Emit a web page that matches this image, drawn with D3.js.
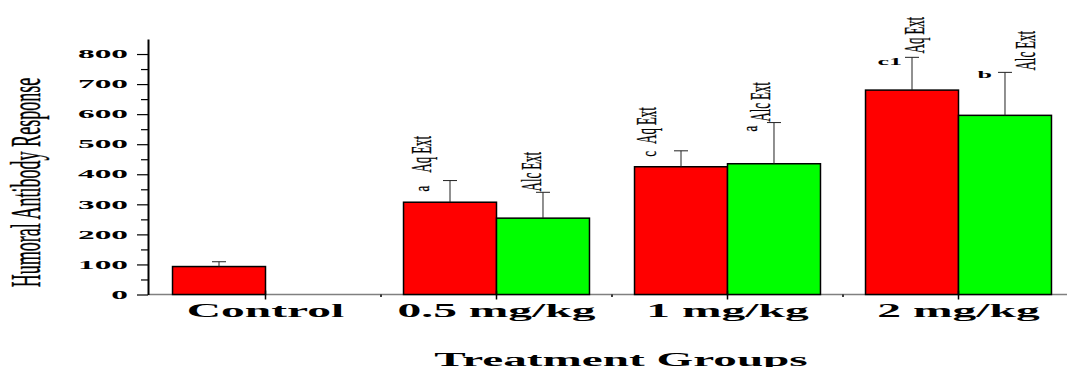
<!DOCTYPE html>
<html>
<head>
<meta charset="utf-8">
<script src="https://cdn.jsdelivr.net/npm/d3@7"></script>
<style>
  html, body { margin: 0; padding: 0; background: #fff; overflow: hidden; }
  text { font-family: "Liberation Serif", "Times New Roman", serif; }
</style>
</head>
<body>
<script>
// chart values
const groups = ["Control", "0.5 mg/kg", "1 mg/kg", "2 mg/kg"];
const series = ["Aq Ext", "Alc Ext"];
const aqValues = [93, 307, 425, 680];
const aqErrors = [16, 72, 53, 109];
const alcValues = [null, 254, 435, 596];
const alcErrors = [null, 86, 137, 143];
const aqLetters = [null, "a", "c", "c1"];
const alcLetters = [null, null, "a", "b"];
const yTicks = [0, 100, 200, 300, 400, 500, 600, 700, 800];
const yMinorTicks = [50, 150, 250, 350, 450, 550, 650, 750];

// hand-placed annotation offsets (relative to top of the error bar)
const labelShift = {
  "Aq Ext":  [null, [-19, -8], [-25, -7], [12, -4]],
  "Alc Ext": [null, [-2, -1], [-4, -1], [30, -2]]
};
const letterShift = {
  "Aq Ext":  [null, [-21, 11, "r"], [-25, 6, "r"], [-10, 8, "h"]],
  "Alc Ext": [null, null, [-17, 9, "r"], [-13, 6, "h"]]
};

const W = 1067, H = 367;
const svg = d3.select("body").append("svg")
    .attr("width", W)
    .attr("height", H);

const y = d3.scaleLinear().domain([0, 850]).range([294.5, 39]);
const x = d3.scaleBand().domain(groups).range([150, 1074])
    .paddingInner(0.195).paddingOuter(0.0975);
const xs = d3.scaleBand().domain(series).range([0, x.bandwidth()]);
const colors = {"Aq Ext": "#ff0000", "Alc Ext": "#00ff00"};

function stretch(sel, k) {
  sel.each(function () {
    const w = this.getComputedTextLength();
    d3.select(this).attr("textLength", w * k).attr("lengthAdjust", "spacingAndGlyphs");
  });
}

const rows = [];
groups.forEach((g, i) => {
  if (aqValues[i] != null) rows.push({g, i, s: "Aq Ext", v: aqValues[i], e: aqErrors[i]});
  if (alcValues[i] != null) rows.push({g, i, s: "Alc Ext", v: alcValues[i], e: alcErrors[i]});
});

// x axis line (grey)
svg.append("line")
    .attr("x1", 148).attr("x2", W)
    .attr("y1", y(0)).attr("y2", y(0))
    .attr("stroke", "#808080").attr("stroke-width", 1.5);

// bars
svg.append("g").selectAll("rect")
  .data(rows)
  .join("rect")
    .attr("x", d => x(d.g) + xs(d.s))
    .attr("y", d => y(d.v))
    .attr("width", xs.bandwidth())
    .attr("height", d => y(0) - y(d.v))
    .attr("fill", d => colors[d.s])
    .attr("stroke", "#000")
    .attr("stroke-width", 1.5);

// error bars (upper only)
const eb = svg.append("g").attr("stroke", "#222").attr("stroke-width", 1);
rows.forEach(d => {
  const cx = x(d.g) + xs(d.s) + xs.bandwidth() / 2;
  eb.append("line").attr("x1", cx).attr("x2", cx).attr("y1", y(d.v)).attr("y2", y(d.v + d.e));
  eb.append("line").attr("x1", cx - 7).attr("x2", cx + 7).attr("y1", y(d.v + d.e)).attr("y2", y(d.v + d.e));
});

// x axis ticks and category labels
const xAxis = svg.append("g")
    .attr("transform", `translate(0,${y(0)})`)
    .call(d3.axisBottom(x).tickSize(5).tickSizeOuter(0));
xAxis.select(".domain").remove();
xAxis.selectAll(".tick line").attr("stroke", "#000").attr("stroke-width", 1.5).attr("y1", -4);
xAxis.selectAll(".tick text")
    .attr("y", 22.5).attr("dy", 0)
    .attr("font-size", 19).attr("font-weight", "bold").attr("fill", "#000")
    .call(stretch, 2.5);
// small ticks between groups
svg.append("g").selectAll("line")
  .data(groups.slice(1))
  .join("line")
    .attr("x1", d => x(d) - x.step() / 2 + x.bandwidth() / 2)
    .attr("x2", d => x(d) - x.step() / 2 + x.bandwidth() / 2)
    .attr("y1", y(0)).attr("y2", y(0) + 2.5)
    .attr("stroke", "#000").attr("stroke-width", 1.5);

// y axis
const yAxis = svg.append("g")
    .attr("transform", "translate(148,0)")
    .call(d3.axisLeft(y).tickValues(yTicks).tickSize(11).tickSizeOuter(0).tickPadding(9));
yAxis.select(".domain").attr("stroke", "#000").attr("stroke-width", 2);
yAxis.selectAll(".tick line").attr("stroke", "#000").attr("stroke-width", 1.2);
yAxis.selectAll(".tick text")
    .attr("font-size", 11.5).attr("font-weight", "bold").attr("fill", "#000")
    .call(stretch, 2.9);
const yMinor = svg.append("g")
    .attr("transform", "translate(148,0)")
    .call(d3.axisLeft(y).tickValues(yMinorTicks).tickSize(7).tickFormat(""));
yMinor.select(".domain").remove();
yMinor.selectAll(".tick line").attr("stroke", "#000").attr("stroke-width", 1.2);

// series labels over the bars (rotated)
const ann = svg.append("g").attr("fill", "#000");
rows.forEach(d => {
  const cx = x(d.g) + xs(d.s) + xs.bandwidth() / 2;
  const top = y(d.v + d.e);
  const ls = labelShift[d.s][d.i];
  if (ls) {
    ann.append("text")
        .attr("transform", `translate(${cx + ls[0]},${top + ls[1]}) rotate(-90)`)
        .attr("font-size", 29)
        .attr("stroke", "#000").attr("stroke-width", 0.3)
        .text(d.s)
        .call(stretch, 0.44);
  }
  const letter = d.s === "Aq Ext" ? aqLetters[d.i] : alcLetters[d.i];
  const ts = letterShift[d.s][d.i];
  if (letter && ts) {
    if (ts[2] === "r") {
      ann.append("text")
          .attr("transform", `translate(${cx + ts[0]},${top + ts[1]}) rotate(-90)`)
          .attr("font-size", 20)
          .attr("stroke", "#000").attr("stroke-width", 0.3)
          .text(letter)
          .call(stretch, 0.65);
    } else {
      ann.append("text")
          .attr("x", cx + ts[0]).attr("y", top + ts[1])
          .attr("text-anchor", "end")
          .attr("font-size", 10).attr("font-weight", "bold")
          .text(letter)
          .call(stretch, 2.6);
    }
  }
});

// axis titles
svg.append("text")
    .attr("transform", "translate(40,182.5) rotate(-90)")
    .attr("text-anchor", "middle")
    .attr("font-size", 42)
    .attr("stroke", "#000").attr("stroke-width", 0.4)
    .text("Humoral Antibody Response")
    .call(stretch, 0.43);

svg.append("text")
    .attr("x", 621).attr("y", 365.5)
    .attr("text-anchor", "middle")
    .attr("font-size", 18.5).attr("font-weight", "bold")
    .text("Treatment Groups")
    .call(stretch, 2.55);
</script>
</body>
</html>
